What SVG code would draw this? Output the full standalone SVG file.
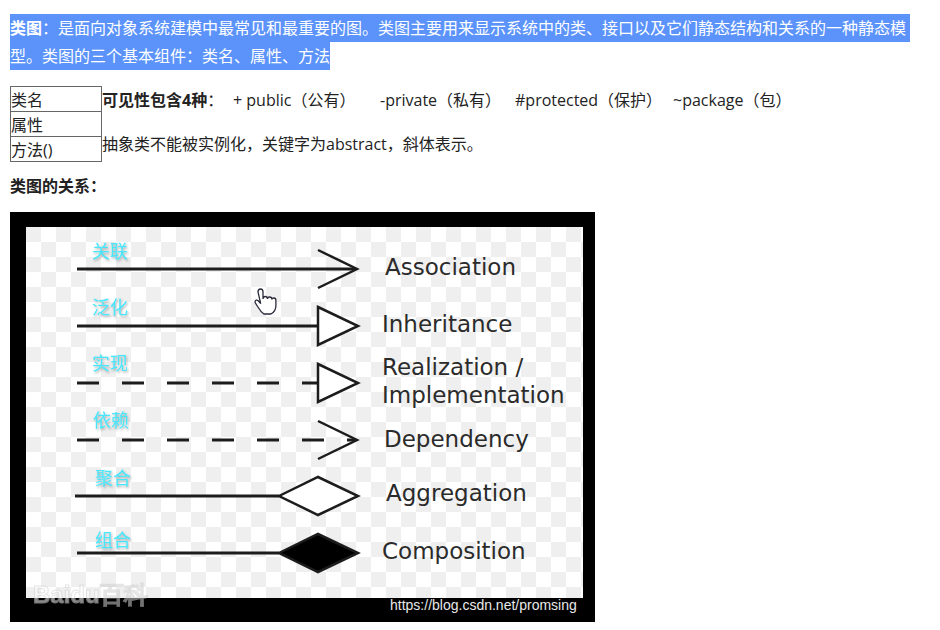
<svg xmlns="http://www.w3.org/2000/svg" width="940" height="630" viewBox="0 0 940 630">
<defs>
<style>
.t{font-family:"Open Sans","Noto Sans CJK SC",sans-serif;font-size:16px;fill:#222}
.hl{font-family:"Open Sans","Noto Sans CJK SC",sans-serif;font-size:16px;fill:#fff}
.b{font-weight:bold}
.en{font-family:"DejaVu Sans",sans-serif;font-size:23px;fill:#2b2b2b}
.cn{font-family:"Noto Sans CJK SC",sans-serif;font-size:18px;fill:#48e6fb;filter:url(#sh)}
.ln{stroke:#1c1c1c;stroke-width:3;fill:none}
.dash{stroke-dasharray:22 23}
.hd{stroke:#1c1c1c;stroke-width:2.5;stroke-linejoin:miter}
.open{fill:none}
.white{fill:#fff}
.black{fill:#000}
.cell{fill:none;stroke:#666;stroke-width:1}
</style>
<pattern id="chk" x="26" y="227" width="30" height="30" patternUnits="userSpaceOnUse">
<rect width="30" height="30" fill="#fff"/>
<rect width="15" height="15" fill="#efefef"/>
<rect x="15" y="15" width="15" height="15" fill="#efefef"/>
</pattern>
<filter id="sh" x="-20%" y="-20%" width="140%" height="160%">
<feDropShadow dx="1" dy="1.5" stdDeviation="1" flood-color="#555" flood-opacity="0.5"/>
</filter>
</defs>
<rect width="940" height="630" fill="#fff"/>

<g id="intro">
<rect x="10" y="14" width="900" height="28" fill="#5b93fb"/>
<rect x="10" y="42" width="320" height="28" fill="#5b93fb"/>
<text class="hl" x="10" y="34"><tspan class="b">类图</tspan>：是面向对象系统建模中最常见和最重要的图。类图主要用来显示系统中的类、接口以及它们静态结构和关系的一种静态模</text>
<text class="hl" x="10" y="62">型。类图的三个基本组件：类名、属性、方法</text>
</g>

<g id="class-box">
<rect class="cell" x="10.5" y="86.5" width="91" height="25"/>
<rect class="cell" x="10.5" y="111.5" width="91" height="25"/>
<rect class="cell" x="10.5" y="136.5" width="91" height="25"/>
<text class="t" x="11" y="106">类名</text>
<text class="t" x="11" y="131">属性</text>
<text class="t" x="11" y="156">方法()</text>
</g>

<g id="visibility">
<text class="t" x="102" y="106"><tspan class="b">可见性包含4种</tspan>：</text>
<text class="t" x="233" y="106">+ public（公有）</text>
<text class="t" x="380" y="106">-private（私有）</text>
<text class="t" x="515" y="106">#protected（保护）</text>
<text class="t" x="673" y="106">~package（包）</text>
<text class="t" x="102" y="150">抽象类不能被实例化，关键字为abstract，斜体表示。</text>
<text class="t b" x="10" y="192">类图的关系：</text>
</g>

<g id="figure">
<rect x="10" y="212" width="585" height="410" fill="#000"/>
<rect x="26" y="227" width="557" height="371" fill="url(#chk)"/>
<text x="33" y="603" font-family="Liberation Sans,sans-serif" font-size="24" font-weight="bold" fill="#fff" stroke="#d0d0d0" stroke-width="1" opacity="0.55">Baidu百科</text>
<text x="390" y="610" font-family="Liberation Sans,sans-serif" font-size="14" fill="#e8e8e8">https://blog.csdn.net/promsing</text>
<path d="M258,292 q0,-3 2.5,-3 q2.5,0 2.5,3 v7 q0,-2.5 2.3,-2.5 q2.2,0 2.2,2.5 q0,-2 2.2,-2 q2.2,0 2.2,2.5 q0,-1.5 2,-1.5 q2,0 2,2.5 v5 q0,6 -5,8.5 h-7 q-3,-2 -6,-7 l-2.5,-4 q-1,-2.300 1,-2.8 q1.5,-0.3 3,1.8 l1.3,1.7 z" fill="#fff" stroke="#2a2a3a" stroke-width="1.3"/>
</g>

<g id="connectors">
<g id="association">
<line class="ln" x1="77" y1="269" x2="356" y2="269"/>
<polyline class="hd open" points="318,250 357,269 318,288"/>
</g>
<g id="inheritance">
<line class="ln" x1="77" y1="326" x2="318" y2="326"/>
<polygon class="hd white" points="318,307 358,326 318,345"/>
</g>
<g id="realization">
<line class="ln dash" x1="77" y1="383" x2="318" y2="383"/>
<polygon class="hd white" points="318,364 358,383 318,402"/>
</g>
<g id="dependency">
<line class="ln dash" x1="77" y1="440" x2="356" y2="440"/>
<polyline class="hd open" points="318,421 357,440 318,459"/>
</g>
<g id="aggregation">
<line class="ln" x1="75" y1="496" x2="279" y2="496"/>
<polygon class="hd white" points="279,496 318,477 358,496 318,515"/>
</g>
<g id="composition">
<line class="ln" x1="77" y1="553" x2="279" y2="553"/>
<polygon class="hd black" points="279,553 318,534 358,553 318,572"/>
</g>
</g>

<g id="labels">
<text class="cn" x="92" y="258">关联</text>
<text class="cn" x="92" y="314">泛化</text>
<text class="cn" x="92" y="370">实现</text>
<text class="cn" x="93" y="427">依赖</text>
<text class="cn" x="95" y="485">聚合</text>
<text class="cn" x="95" y="547">组合</text>
<text class="en" x="385" y="275">Association</text>
<text class="en" x="382" y="332">Inheritance</text>
<text class="en" x="382" y="375">Realization /</text>
<text class="en" x="382" y="403">Implementation</text>
<text class="en" x="384" y="447">Dependency</text>
<text class="en" x="386" y="501">Aggregation</text>
<text class="en" x="382" y="559">Composition</text>
</g>
</svg>
